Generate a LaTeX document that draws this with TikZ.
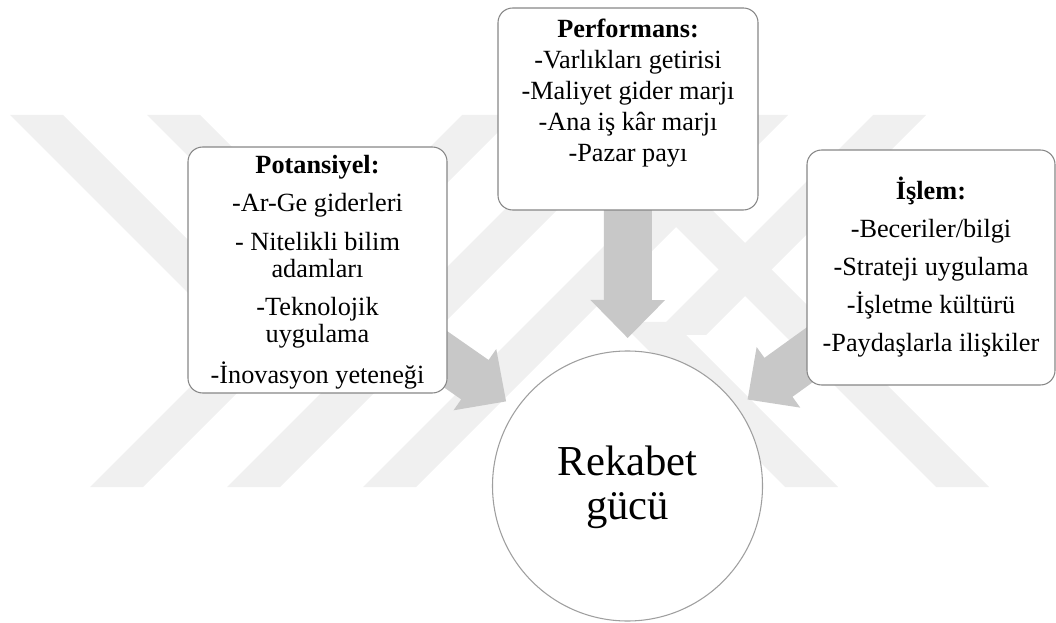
\documentclass[tikz,border=0pt]{standalone}
\usepackage{fontspec}
\setmainfont{Liberation Serif}
\usetikzlibrary{calc}
\usetikzlibrary{backgrounds}

\definecolor{okgri}{RGB}{200,200,200}
\definecolor{kenargri}{RGB}{135,135,135}
\definecolor{filigran}{RGB}{240,240,240}

\begin{document}
\begin{tikzpicture}[x=0.75pt, y=-0.75pt,
	kutu/.style={draw=kenargri, line width=0.8pt, fill=white, rounded corners=11pt, inner sep=0pt},
	kutuyazi/.style={align=center, inner sep=0pt, font=\fontsize{19.7pt}{23.25pt}\selectfont}]
			\useasboundingbox (0,0) rectangle (1056,623);
			\node[kutu, minimum width=194.25pt, minimum height=184.5pt] (pot) at (317.5,270) {};
			\node[kutu, minimum width=195pt, minimum height=151.5pt] (perf) at (628,109) {};
			\node[kutu, minimum width=186pt, minimum height=176.25pt] (isl) at (931,267.5) {};
			\node[draw=kenargri!80, line width=0.8pt, circle, fill=white, inner sep=0pt, minimum size=202.5pt] (rek) at (627.5,486) {};
			\node[kutuyazi, font=\fontsize{19.7pt}{20.25pt}\selectfont] (potyazi) at ([yshift=-1.5pt]pot.center) {\textbf{Potansiyel:}\\[8.6pt]-Ar-Ge giderleri\\[8.6pt]- Nitelikli bilim\\adamları\\[8.6pt]-Teknolojik\\uygulama\\[8.6pt]-İnovasyon yeteneği};
			\node[kutuyazi] (perfyazi) at ([yshift=11.7pt]perf.center) {\textbf{Performans:}\\-Varlıkları getirisi\\-Maliyet gider marjı\\-Ana iş kâr marjı\\-Pazar payı};
			\node[kutuyazi, font=\fontsize{19.7pt}{28.5pt}\selectfont] (islyazi) at (isl.center) {\textbf{İşlem:}\\-Beceriler/bilgi\\-Strateji uygulama\\-İşletme kültürü\\-Paydaşlarla ilişkiler};
			\node[align=center, inner sep=0pt, font=\fontsize{32pt}{33pt}\selectfont] (rekyazi) at ([yshift=-1pt]rek.center) {Rekabet\\gücü};
			\begin{pgfonlayer}{background}
				\begin{scope}
					\clip (0,115) rectangle (1056,487);
					\fill[filigran] (90,487) -- (143,487) -- (515,115) -- (462,115) -- cycle;
					\fill[filigran] (227,487) -- (280,487) -- (652,115) -- (599,115) -- cycle;
					\fill[filigran] (363,487) -- (416,487) -- (788,115) -- (735,115) -- cycle;
					\fill[filigran] (10,115) -- (63,115) -- (278,330) -- (225,330) -- cycle;
					\fill[filigran] (147,115) -- (200,115) -- (415,330) -- (362,330) -- cycle;
					\fill[filigran] (873,115) -- (926,115) -- (706,335) -- (653,335) -- cycle;
					\fill[filigran] (620,322) -- (673,322) -- (838,487) -- (785,487) -- cycle;
					\fill[filigran] (564,115) -- (617,115) -- (989,487) -- (936,487) -- cycle;
				\end{scope}
				\foreach \kaynak in {pot,perf,isl}{
					\coordinate (uc) at ($(rek.center)!111pt!(\kaynak.center)$);
					\coordinate (taban) at ($(uc)!28.5pt!(\kaynak.center)$);
					\fill[okgri] (uc) -- ($(taban)!28pt!90:(uc)$) -- ($(taban)!18pt!90:(uc)$) -- ($(\kaynak.center)!18pt!90:(uc)$) -- ($(\kaynak.center)!18pt!-90:(uc)$) -- ($(taban)!18pt!-90:(uc)$) -- ($(taban)!28pt!-90:(uc)$) -- cycle;
				}
			\end{pgfonlayer}
		\end{tikzpicture}
\end{document}
